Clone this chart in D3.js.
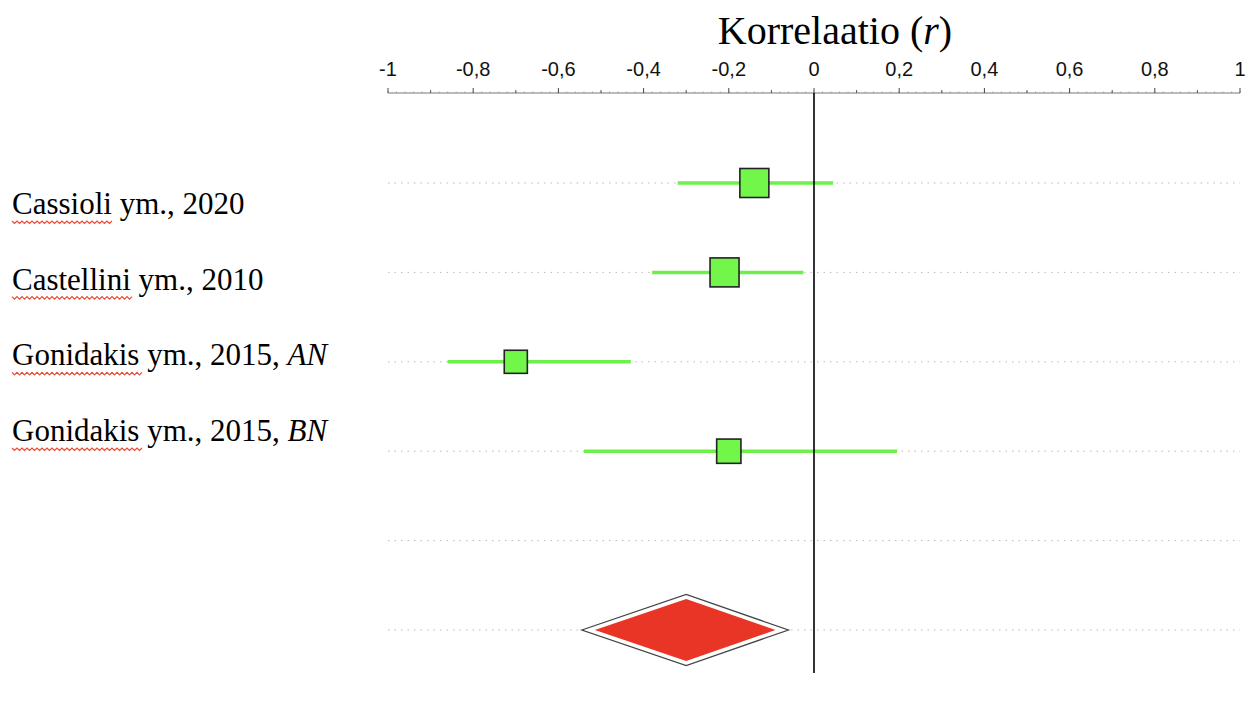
<!DOCTYPE html>
<html><head><meta charset="utf-8">
<script src="https://cdn.jsdelivr.net/npm/d3@7"></script>
<style>body{margin:0;background:#fff;}svg{display:block;}</style>
</head><body>
<svg id="c" width="1246" height="715"></svg>
<script>
const studies = ["Cassioli ym., 2020", "Castellini ym., 2010", "Gonidakis ym., 2015, ", "Gonidakis ym., 2015, "];
const studySuffix = ["", "", "AN", "BN"];
const underlined = ["Cassioli", "Castellini", "Gonidakis", "Gonidakis"];
const estimates = [-0.14, -0.21, -0.70, -0.20];
const lower = [-0.32, -0.38, -0.86, -0.54];
const upper = [0.045, -0.025, -0.43, 0.195];
const weights = [30, 30, 19, 21];
const pooled = {est: -0.30, lo: -0.545, hi: -0.06};
const tickValues = [-1, -0.8, -0.6, -0.4, -0.2, 0, 0.2, 0.4, 0.6, 0.8, 1];
const axisTitle = "Korrelaatio (";
const axisTitleItalic = "r";

const svg = d3.select("#c");
const x = d3.scaleLinear().domain([-1, 1]).range([388, 1240]);
const yRow = d3.scaleLinear().domain([0, 5]).range([183, 630]);
const yLab = d3.scaleLinear().domain([0, 3]).range([214, 441]);
const side = d3.scaleSqrt().domain([0, 30]).range([0, 29]);
const axisY = 93;
const serif = "Liberation Serif, Times New Roman, serif";

// title
const t = svg.append("text").attr("x", 835).attr("y", 44).attr("text-anchor", "middle")
  .attr("font-family", serif).attr("font-size", 40).attr("fill", "#000");
t.append("tspan").text(axisTitle);
t.append("tspan").attr("font-style", "italic").text(axisTitleItalic);
t.append("tspan").text(")");

// axis line + ticks
const ax = svg.append("g");
ax.append("line").attr("x1", x(-1)).attr("x2", x(1)).attr("y1", axisY).attr("y2", axisY)
  .attr("stroke", "#777").attr("stroke-width", 1);
const fine = d3.range(-1, 1.0001, 0.02);
ax.selectAll("line.fine").data(fine).join("line").attr("class", "fine")
  .attr("x1", d => x(d)).attr("x2", d => x(d)).attr("y1", axisY).attr("y2", axisY - 1.5)
  .attr("stroke", "#999").attr("stroke-width", 0.8);
const minor = d3.range(-0.9, 1, 0.2);
ax.selectAll("line.minor").data(minor).join("line").attr("class", "minor")
  .attr("x1", d => x(d)).attr("x2", d => x(d)).attr("y1", axisY).attr("y2", axisY - 3)
  .attr("stroke", "#555").attr("stroke-width", 1);
ax.selectAll("line.major").data(tickValues).join("line").attr("class", "major")
  .attr("x1", d => x(d)).attr("x2", d => x(d)).attr("y1", axisY).attr("y2", axisY - 5)
  .attr("stroke", "#444").attr("stroke-width", 1);
ax.selectAll("text").data(tickValues).join("text")
  .attr("x", d => x(d)).attr("y", 76).attr("text-anchor", "middle")
  .attr("font-family", "Liberation Sans, Arial, sans-serif").attr("font-size", 20).attr("fill", "#111")
  .text(d => d3.format("")(d).replace(".", ",").replace("−", "-"));

// dotted gridlines
svg.selectAll("line.grid").data(d3.range(6)).join("line").attr("class", "grid")
  .attr("x1", x(-1)).attr("x2", x(1)).attr("y1", d => yRow(d)).attr("y2", d => yRow(d))
  .attr("stroke", "#bbb").attr("stroke-width", 1).attr("stroke-dasharray", "1.5,5");

// CI lines
svg.selectAll("line.ci").data(estimates).join("line").attr("class", "ci")
  .attr("x1", (d, i) => x(lower[i])).attr("x2", (d, i) => x(upper[i]))
  .attr("y1", (d, i) => yRow(i)).attr("y2", (d, i) => yRow(i))
  .attr("stroke", "#6ef04a").attr("stroke-width", 3.5);

// zero line
svg.append("line").attr("x1", x(0)).attr("x2", x(0)).attr("y1", axisY).attr("y2", 673)
  .attr("stroke", "#000").attr("stroke-width", 1.6);

// squares
svg.selectAll("rect.pt").data(estimates).join("rect").attr("class", "pt")
  .attr("x", (d, i) => x(d) - side(weights[i]) / 2)
  .attr("y", (d, i) => yRow(i) - side(weights[i]) / 2)
  .attr("width", (d, i) => side(weights[i])).attr("height", (d, i) => side(weights[i]))
  .attr("fill", "#72f64a").attr("stroke", "#222").attr("stroke-width", 1.6);

// diamond
const dy = yRow(5), h = 35.5;
const dpath = `M${x(pooled.lo)},${dy} L${x(pooled.est)},${dy - h} L${x(pooled.hi)},${dy} L${x(pooled.est)},${dy + h} Z`;
svg.append("path").attr("d", dpath).attr("fill", "#fff").attr("stroke", "#444").attr("stroke-width", 1.3);
const g = 5;
const dpath2 = `M${x(pooled.lo) + g * 2.6},${dy} L${x(pooled.est)},${dy - h + g * 0.9} L${x(pooled.hi) - g * 2.6},${dy} L${x(pooled.est)},${dy + h - g * 0.9} Z`;
svg.append("path").attr("d", dpath2).attr("fill", "#e83526");

// study labels
const labs = svg.selectAll("g.lab").data(studies).join("g").attr("class", "lab");
labs.each(function(d, i) {
  const gg = d3.select(this);
  const tx = gg.append("text").attr("x", 12).attr("y", yLab(i))
    .attr("font-family", serif).attr("font-size", 31).attr("fill", "#000");
  tx.append("tspan").text(d);
  if (studySuffix[i]) tx.append("tspan").attr("font-style", "italic").text(studySuffix[i]);
  // spell-check squiggle under first word
  const tmp = gg.append("text").attr("font-family", serif).attr("font-size", 31).text(underlined[i]);
  const w = tmp.node().getComputedTextLength();
  tmp.remove();
  const yy = yLab(i) + 7;
  let p = `M12,${yy}`;
  for (let xx = 12; xx < 12 + w; xx += 5) {
    p += ` L${xx + 2.5},${yy + 2.5} L${xx + 5},${yy}`;
  }
  gg.append("path").attr("d", p).attr("fill", "none").attr("stroke", "#ec4a35").attr("stroke-width", 1.2);
});
</script>
</body></html>
